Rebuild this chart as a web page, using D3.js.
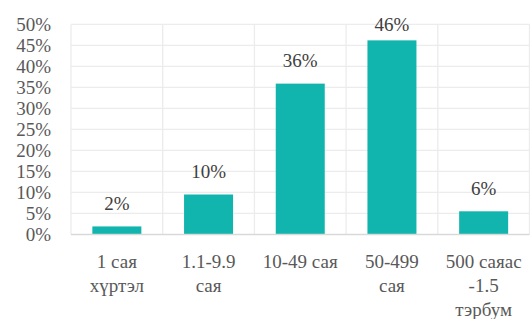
<!DOCTYPE html>
<html><head><meta charset="utf-8">
<script src="https://cdn.jsdelivr.net/npm/d3@7"></script>
<style>body{margin:0;background:#fff}svg{display:block}svg text{font-family:"Liberation Serif","DejaVu Serif",serif !important}</style>
</head><body>
<svg id="c" width="530" height="319"></svg>
<script>
const categories = [["1 сая","хүртэл"],["1.1-9.9","сая"],["10-49 сая"],["50-499","сая"],["500 саяас","-1.5","тэрбум"]];
const values = [1.9, 9.5, 35.9, 46.2, 5.5];
const yTicks = [0,5,10,15,20,25,30,35,40,45,50];

(function(){
const svg = d3.select("#c");
const mLeft = 71, mRight = 529.5, mTop = 24.4, mBottom = 234.4;
const x = d3.scaleBand().domain(d3.range(values.length)).range([mLeft, mRight]).paddingInner(0).paddingOuter(0);
const y = d3.scaleLinear().domain([0,50]).range([mBottom, mTop]);

svg.append("g").selectAll("line").data(yTicks.filter(d=>d>0)).join("line")
  .attr("x1", mLeft).attr("x2", mRight).attr("y1", d=>y(d)).attr("y2", d=>y(d))
  .attr("stroke", "#ececec").attr("stroke-width", 1.3);
const vx = d3.range(values.length+1).map(i => mLeft + i*x.step());
svg.append("g").selectAll("line").data(vx).join("line")
  .attr("x1", d=>d).attr("x2", d=>d).attr("y1", mTop).attr("y2", mBottom)
  .attr("stroke", "#ececec").attr("stroke-width", 1.3);

const bw = 49;
svg.append("g").selectAll("rect").data(values).join("rect")
  .attr("x", (d,i)=>x(i)+x.bandwidth()/2-bw/2).attr("width", bw)
  .attr("y", d=>y(d)).attr("height", d=>mBottom-y(d))
  .attr("fill", "#12b5ae");

svg.append("line").attr("x1", mLeft).attr("x2", mRight).attr("y1", mBottom).attr("y2", mBottom)
  .attr("stroke", "#d9d9d9").attr("stroke-width", 1.5);

const yAxis = d3.axisLeft(y).tickValues(yTicks).tickFormat(d=>d+"%").tickSize(0).tickPadding(0);
const ga = svg.append("g").attr("transform", `translate(51,0)`).call(yAxis);
ga.select(".domain").remove();
ga.selectAll("text").attr("font-size", 19).attr("fill", "#595959").attr("dy","0.33em");

svg.append("g").selectAll("text").data(values).join("text")
  .attr("x", (d,i)=>x(i)+x.bandwidth()/2)
  .attr("y", d=>Math.max(y(d)-23, 24)+6.5)
  .attr("text-anchor","middle").attr("font-size", 19).attr("fill", "#404040")
  .text(d=>Math.round(d)+"%");

const cg = svg.append("g").selectAll("text").data(categories).join("text")
  .attr("text-anchor","middle").attr("font-size", 19).attr("fill", "#595959");
cg.each(function(lines,i){
  d3.select(this).selectAll("tspan").data(lines).join("tspan")
    .attr("x", x(i)+x.bandwidth()/2).attr("y", (d,j)=>268+j*24.2).text(d=>d);
});
})();
</script>
</body></html>
